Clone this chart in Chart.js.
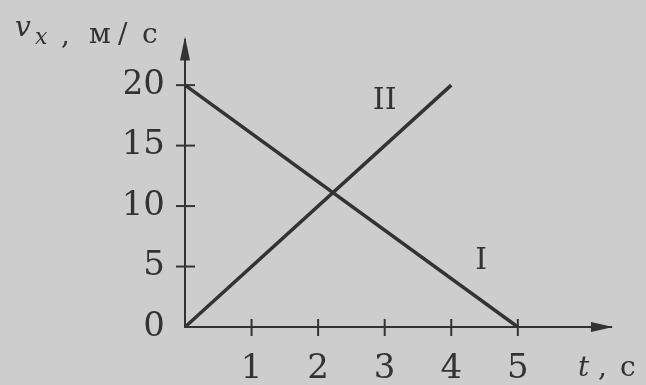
<!DOCTYPE html>
<html>
<head>
<meta charset="utf-8">
<script src="https://cdn.jsdelivr.net/npm/chart.js@4/dist/chart.umd.min.js"></script>
<style>
  body { margin: 0; background: #cdcdcd; }
  #wrap { width: 646px; height: 385px; position: relative; }
</style>
</head>
<body>
<div id="wrap"><canvas id="speedChart"></canvas></div>
<script>
// Speed vs time for two bodies
const lineI = [{ x: 0, y: 20 }, { x: 5, y: 0 }];
const lineII = [{ x: 0, y: 0 }, { x: 4, y: 20 }];
const xTicks = [1, 2, 3, 4, 5];
const yTicks = [0, 5, 10, 15, 20];
const lineLabels = [
    { text: 'II', x: 3.0, y: 18.7 },
    { text: 'I', x: 4.45, y: 5.4 }
];

const ink = '#333333';
const serif = "'DejaVu Serif', 'Liberation Serif', serif";

// Axis arrows, crossing tick marks and the text labels
const decorPlugin = {
    id: 'decor',
    afterDraw(chart) {
        const ctx = chart.ctx;
        const xs = chart.scales.x;
        const ys = chart.scales.y;
        const x0 = xs.getPixelForValue(0);
        const y0 = ys.getPixelForValue(0);
        const right = chart.chartArea.right;
        const top = chart.chartArea.top;

        ctx.save();
        ctx.strokeStyle = ink;
        ctx.fillStyle = ink;
        ctx.lineWidth = 2;

        // tick marks across the axes
        xTicks.forEach(v => {
            const px = xs.getPixelForValue(v);
            ctx.beginPath();
            ctx.moveTo(px, y0 - 8);
            ctx.lineTo(px, y0 + 9);
            ctx.stroke();
        });
        yTicks.filter(v => v > 0).forEach(v => {
            const py = ys.getPixelForValue(v);
            ctx.beginPath();
            ctx.moveTo(x0 - 9, py);
            ctx.lineTo(x0 + 10, py);
            ctx.stroke();
        });

        // arrow heads
        ctx.beginPath();
        ctx.moveTo(x0, top - 4);
        ctx.lineTo(x0 - 5, top + 20);
        ctx.lineTo(x0 + 5, top + 20);
        ctx.closePath();
        ctx.fill();
        ctx.beginPath();
        ctx.moveTo(right + 2, y0);
        ctx.lineTo(right - 20, y0 - 5);
        ctx.lineTo(right - 20, y0 + 5);
        ctx.closePath();
        ctx.fill();

        // line names
        ctx.font = '30px ' + serif;
        ctx.textAlign = 'center';
        ctx.textBaseline = 'middle';
        lineLabels.forEach(l => {
            ctx.fillText(l.text, xs.getPixelForValue(l.x), ys.getPixelForValue(l.y));
        });

        // axis titles, letters spaced out one by one
        ctx.textAlign = 'left';
        ctx.textBaseline = 'alphabetic';
        ctx.font = 'italic 28px ' + serif;
        ctx.fillText('v', 15, 36);
        ctx.font = 'italic 22px ' + serif;
        ctx.fillText('x', 35, 44);
        ctx.font = '28px ' + serif;
        ctx.fillText(',', 61, 44);
        ctx.fillText('м', 89, 43);
        ctx.fillText('/', 118, 43);
        ctx.fillText('с', 142, 43);

        ctx.font = 'italic 28px ' + serif;
        ctx.fillText('t', 578, 376);
        ctx.font = '28px ' + serif;
        ctx.fillText(',', 598, 376);
        ctx.fillText('с', 620, 376);
        ctx.restore();
    }
};

new Chart(document.getElementById('speedChart'), {
    type: 'line',
    data: {
        datasets: [
            { label: 'I', data: lineI },
            { label: 'II', data: lineII }
        ]
    },
    options: {
        responsive: true,
        maintainAspectRatio: false,
        animation: false,
        layout: { padding: { left: 125, right: 35, top: 40, bottom: 0 } },
        elements: {
            line: { borderColor: ink, borderWidth: 3.5, tension: 0 },
            point: { radius: 0 }
        },
        plugins: {
            legend: { display: false },
            tooltip: { enabled: false }
        },
        scales: {
            x: {
                type: 'linear',
                min: 0,
                max: 6.4,
                afterBuildTicks: scale => { scale.ticks = xTicks.map(v => ({ value: v })); },
                afterFit: scale => { scale.height = 58; },
                grid: { display: false, drawTicks: false },
                border: { display: true, color: ink, width: 2 },
                ticks: { color: ink, padding: 22, font: { family: serif, size: 34 } }
            },
            y: {
                type: 'linear',
                min: 0,
                max: 23.7,
                afterBuildTicks: scale => { scale.ticks = yTicks.map(v => ({ value: v })); },
                afterFit: scale => { scale.width = 60; },
                grid: { display: false, drawTicks: false },
                border: { display: true, color: ink, width: 2 },
                ticks: { color: ink, padding: 20, font: { family: serif, size: 34 } }
            }
        }
    },
    plugins: [decorPlugin]
});
</script>
</body>
</html>
